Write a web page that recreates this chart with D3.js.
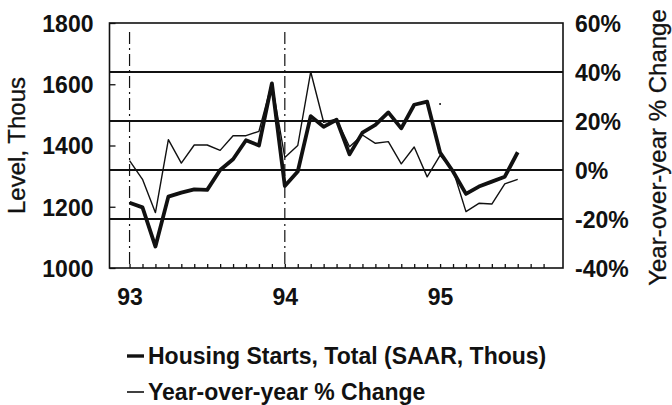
<html>
  <head>
    <script src="https://cdnjs.cloudflare.com/ajax/libs/d3/7.8.5/d3.min.js"></script>
  </head>
  <body style="margin:0;background:#fff;">
    <style>
      text {font-family:"Liberation Sans", Arial, sans-serif; font-size:23px; font-weight:bold; fill:#111;}
      text.title {font-size:24px; font-weight:normal; stroke:#111; stroke-width:0.3px;}
      .axis path.domain {display:none;}
      .axis line {stroke:#111; stroke-width:1.3px;}
    </style>
    <div id="chart"></div>
    <script>

// D A T A

      // monthly, Jan 93 .. Jul 95 (month index 0 = Jan 93)
      let months = d3.range(0, 31)
      let starts = [1213, 1198, 1070, 1233, 1246, 1257, 1255, 1320, 1355, 1417, 1400, 1603,
                    1268, 1315, 1496, 1461, 1484, 1371, 1442, 1467, 1508, 1456, 1533, 1543,
                    1377, 1315, 1242, 1266, 1282, 1298, 1378]
      let change = [3.8, -3.8, -17.4, 12.4, 2.8, 10.2, 10.2, 8.0, 14.0, 14.0, 15.8, 35.5,
                    5.1, 10.0, 40.1, 19.5, 20.7, 9.5, 14.3, 10.9, 11.6, 2.5, 9.4, -2.8,
                    6.0, 0.0, -17.0, -13.6, -13.9, -5.7, -3.8]
      let yearTicks = [0, 12, 24]
      let yearLabels = ['93', '94', '95']
      let levelTicks = [1000, 1200, 1400, 1600, 1800]
      let pctTicks = [-40, -20, 0, 20, 40, 60]
      let gridPct = [-20, 0, 20, 40]
      let seriesNames = ['Housing Starts, Total (SAAR, Thous)', 'Year-over-year % Change']


// S E T U P

      let W = 672, H = 405
      let frame = {left: 109.5, right: 563, top: 23, bottom: 268}

      let svg = d3.select('#chart')
        .append('svg')
          .attr('width', W)
          .attr('height', H)

      let x = d3.scaleLinear()
        .domain([-1.55, 33.5])
        .range([frame.left, frame.right])

      let yL = d3.scaleLinear()
        .domain([1000, 1800])
        .range([frame.bottom, frame.top])

      let yR = d3.scaleLinear()
        .domain([-40, 60])
        .range([frame.bottom, frame.top])


// G R I D

      svg.append('g')
        .selectAll('line')
        .data(gridPct)
        .enter()
          .append('line')
          .attr('x1', frame.left)
          .attr('x2', frame.right)
          .attr('y1', d => yR(d))
          .attr('y2', d => yR(d))
          .attr('stroke', '#111')
          .attr('stroke-width', 1.8)

      // dash-dot year markers
      svg.append('g')
        .selectAll('line')
        .data(yearTicks.slice(0, 2))
        .enter()
          .append('line')
          .attr('x1', d => x(d))
          .attr('x2', d => x(d))
          .attr('y1', 32)
          .attr('y2', frame.bottom)
          .attr('stroke', '#111')
          .attr('stroke-width', 1.2)
          .attr('stroke-dasharray', '12,4,2,4')

      svg.append('line')
        .attr('x1', x(24)).attr('x2', x(24))
        .attr('y1', 103).attr('y2', 105)
        .attr('stroke', '#111')
        .attr('stroke-width', 1.5)

      svg.append('rect')
        .attr('x', frame.left)
        .attr('y', frame.top)
        .attr('width', frame.right - frame.left)
        .attr('height', frame.bottom - frame.top)
        .attr('fill', 'none')
        .attr('stroke', '#111')
        .attr('stroke-width', 1.6)


// A X E S

      svg.append('g')
        .attr('class', 'axis')
        .attr('transform', `translate(${frame.left},0)`)
        .call(d3.axisLeft(yL)
          .tickValues(levelTicks)
          .tickSizeInner(-6)
          .tickSizeOuter(0)
          .tickPadding(16)
          .tickFormat(d3.format('d')))
        .selectAll('text')
          .attr('dy', '0.36em')

      svg.append('g')
        .attr('class', 'axis')
        .attr('transform', `translate(${frame.right},0)`)
        .call(d3.axisRight(yR)
          .tickValues(pctTicks)
          .tickSize(0)
          .tickPadding(12)
          .tickFormat(d => d + '%'))
        .selectAll('text')
          .attr('dy', '0.36em')

      svg.append('g')
        .attr('class', 'axis')
        .attr('transform', `translate(0,${frame.bottom})`)
        .call(d3.axisBottom(x)
          .tickValues(d3.range(0, 33))
          .tickSizeInner(-4)
          .tickSizeOuter(0)
          .tickFormat(''))

      svg.append('g')
        .attr('class', 'axis')
        .attr('transform', `translate(0,${frame.bottom})`)
        .call(d3.axisBottom(x)
          .tickValues(yearTicks)
          .tickSize(0)
          .tickPadding(21)
          .tickFormat((d, i) => yearLabels[i]))

      svg.append('text')
        .attr('class', 'title')
        .attr('transform', `translate(25,${(frame.top + frame.bottom) / 2}) rotate(-90)`)
        .attr('text-anchor', 'middle')
        .text('Level, Thous')

      svg.append('text')
        .attr('class', 'title')
        .attr('transform', `translate(666,${(frame.top + frame.bottom) / 2 + 2}) rotate(-90)`)
        .attr('text-anchor', 'middle')
        .text('Year-over-year % Change')


// L I N E S

      let lineL = d3.line()
        .x((d, i) => x(months[i]))
        .y(d => yL(d))

      let lineR = d3.line()
        .x((d, i) => x(months[i]))
        .y(d => yR(d))

      svg.append('path')
        .datum(change)
        .attr('d', lineR)
        .attr('fill', 'none')
        .attr('stroke', '#111')
        .attr('stroke-width', 1.4)
        .attr('stroke-linejoin', 'round')

      svg.append('path')
        .datum(starts)
        .attr('d', lineL)
        .attr('fill', 'none')
        .attr('stroke', '#111')
        .attr('stroke-width', 3.8)
        .attr('stroke-linejoin', 'round')


// L E G E N D

      let legend = svg.append('g')
        .selectAll('g')
        .data(seriesNames)
        .enter()
          .append('g')
          .attr('transform', (d, i) => `translate(127,${356 + i * 36})`)

      legend.append('line')
        .attr('x1', 0)
        .attr('x2', 17)
        .attr('stroke', '#111')
        .attr('stroke-width', (d, i) => i == 0 ? 3.4 : 1.6)

      legend.append('text')
        .attr('x', 21)
        .attr('dy', '0.36em')
        .text(d => d)

    </script>
  </body>
</html>
